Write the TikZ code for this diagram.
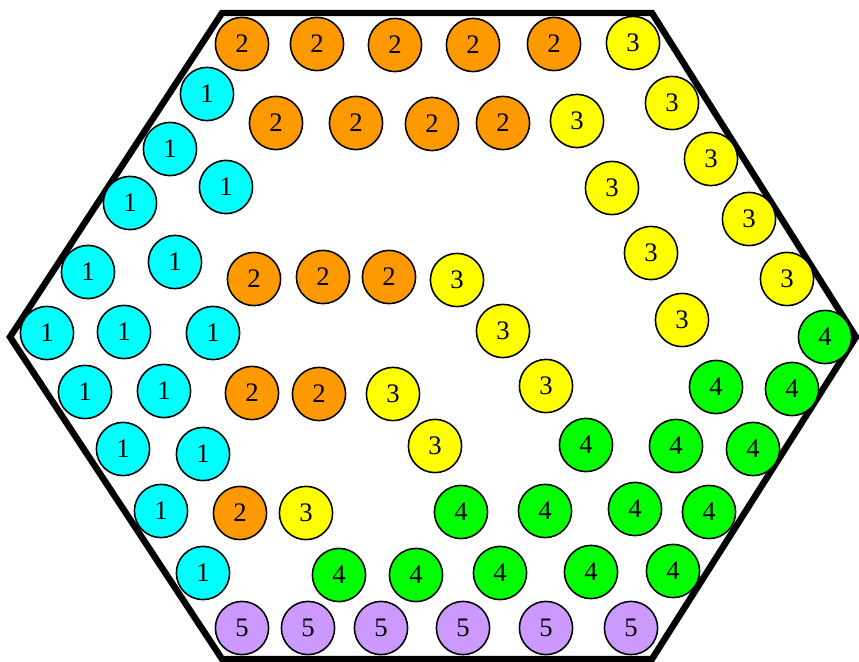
\documentclass[tikz,border=0pt]{standalone}
\usepackage{fontspec}
\setmainfont{Liberation Serif}
\definecolor{teamone}{RGB}{0,255,255}
\definecolor{teamtwo}{RGB}{255,153,0}
\definecolor{teamthree}{RGB}{255,255,0}
\definecolor{teamfour}{RGB}{0,255,0}
\definecolor{teamfive}{RGB}{204,153,255}
\def\ballsize{1.33cm}

\begin{document}
\begin{tikzpicture}[x=0.025cm, y=-0.025cm,
    ball/.style={circle, draw, line width=1.1pt, minimum size=\ballsize, inner sep=0pt,
        font=\fontsize{19}{20}\selectfont}]
    \useasboundingbox (0,0) rectangle (859,662);

    % Board outline.
    \draw[line width=4.6pt, line join=miter]
    (222,13) -- (652,13) -- (856,337) -- (652,659) -- (222,659) -- (10,337) -- cycle;

    % Group 1 (cyan).
    \foreach \x/\y [count=\k] in {207/94, 170/149, 226/187, 130/203, 175/262, 88/272,
            47/333, 124/332, 213/333, 85/392, 164/391, 123/449, 203/454, 161/511, 203/573} {
            \node[ball, fill=teamone] (one\k) at (\x,\y) {1};
        }
    % Group 2 (orange).
    \foreach \x/\y [count=\k] in {242/44, 317/44, 395/45, 473/45, 554/44,
            276/123, 356/123, 432/124, 503/123,
            254/279, 323/277, 389/277, 252/393, 319/394, 240/513} {
            \node[ball, fill=teamtwo] (two\k) at (\x,\y) {2};
        }
    % Group 3 (yellow).
    \foreach \x/\y [count=\k] in {633/43, 577/121, 672/103, 711/159, 612/188, 749/219,
            651/253, 457/280, 787/279, 682/320, 503/331, 546/386, 393/394, 435/446, 306/513} {
            \node[ball, fill=teamthree] (three\k) at (\x,\y) {3};
        }
    % Group 4 (green).
    \foreach \x/\y [count=\k] in {825/337, 716/387, 792/389, 586/445, 676/446, 753/449,
            461/512, 545/511, 635/509, 709/512,
            339/575, 416/575, 500/573, 591/572, 673/571} {
            \node[ball, fill=teamfour] (four\k) at (\x,\y) {4};
        }
    % Group 5 (purple), along the bottom edge.
    \foreach \x [count=\k] in {242, 308, 381, 463, 546, 631} {
            \node[ball, fill=teamfive] (five\k) at (\x,628) {5};
        }
\end{tikzpicture}
\end{document}
